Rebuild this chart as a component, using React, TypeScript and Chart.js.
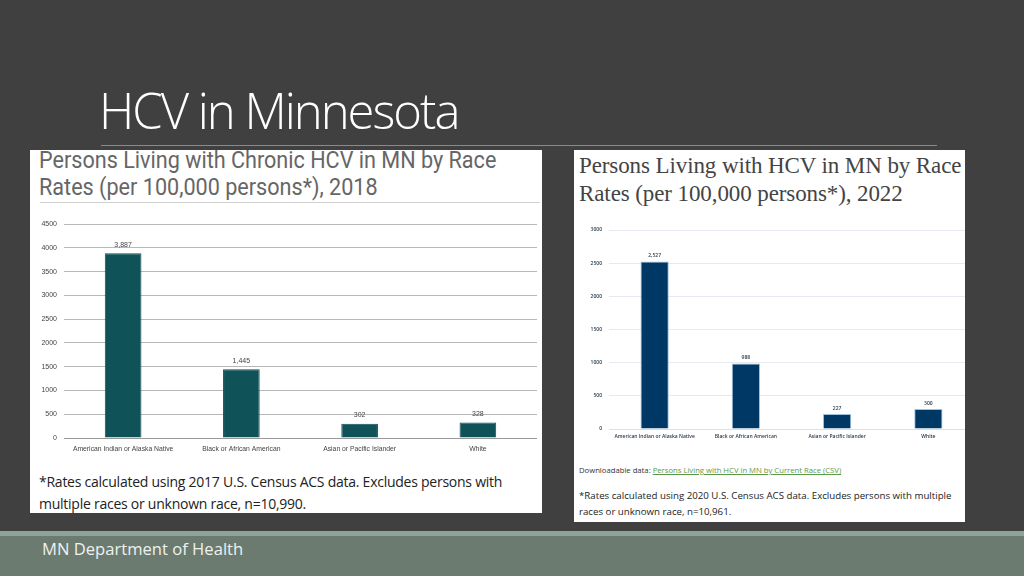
import React, { useEffect, useRef } from "react";
import { Chart, registerables } from "chart.js";

Chart.register(...registerables);

const categories = [
  "American Indian or Alaska Native",
  "Black or African American",
  "Asian or Pacific Islander",
  "White",
];
const rates2018 = [3887, 1445, 302, 328];
const rates2022 = [2527, 988, 227, 300];
const ticks2018 = [0, 500, 1000, 1500, 2000, 2500, 3000, 3500, 4000, 4500];
const ticks2022 = [0, 500, 1000, 1500, 2000, 2500, 3000];

const valueLabelPlugin = (color: string, font: string, offset: number) => ({
  id: "valueLabels",
  afterDatasetsDraw(chart: any) {
    const ctx = chart.ctx;
    const meta = chart.getDatasetMeta(0);
    const data = chart.data.datasets[0].data as number[];
    ctx.save();
    ctx.fillStyle = color;
    ctx.font = font;
    ctx.textAlign = "center";
    ctx.textBaseline = "bottom";
    meta.data.forEach((bar: any, i: number) => {
      ctx.fillText(data[i].toLocaleString("en-US"), bar.x, bar.y - offset);
    });
    ctx.restore();
  },
});

interface ChartProps {
  values: number[];
  tickValues: number[];
  max: number;
  barColor: string;
  borderColor: string;
  gridColor: string;
  zeroColor: string;
  tickColor: string;
  yTickFont: { family: string; size: number; weight?: any };
  xTickFont: { family: string; size: number; weight?: any };
  labelFont: string;
  labelColor: string;
  labelOffset: number;
  yWidth: number;
  xHeight: number;
  xPad: number;
  padding: { top: number; right: number; left: number; bottom: number };
  width: number;
  height: number;
}

function BarChart(p: ChartProps) {
  const ref = useRef<HTMLCanvasElement>(null);
  useEffect(() => {
    if (!ref.current) return;
    const chart = new Chart(ref.current, {
      type: "bar",
      data: {
        labels: categories,
        datasets: [
          {
            data: p.values,
            backgroundColor: p.barColor,
            borderColor: p.borderColor,
            borderWidth: 1,
            barPercentage: 0.31,
            categoryPercentage: 1,
          },
        ],
      },
      options: {
        animation: false,
        responsive: false,
        maintainAspectRatio: false,
        layout: { padding: p.padding },
        plugins: { legend: { display: false }, tooltip: { enabled: false } },
        scales: {
          x: {
            grid: { display: false, drawTicks: false },
            border: { display: false },
            ticks: {
              color: p.tickColor,
              font: p.xTickFont,
              maxRotation: 0,
              autoSkip: false,
              padding: p.xPad,
            },
            afterFit: (s: any) => {
              s.height = p.xHeight;
            },
          },
          y: {
            min: 0,
            max: p.max,
            afterBuildTicks: (s: any) => {
              s.ticks = p.tickValues.map((v) => ({ value: v }));
            },
            grid: {
              color: (c: any) => (c.tick && c.tick.value === 0 ? p.zeroColor : p.gridColor),
              drawTicks: false,
              lineWidth: 1,
            },
            border: { display: false },
            ticks: {
              color: p.tickColor,
              font: p.yTickFont,
              padding: 7,
              callback: (v: any) => String(v),
            },
            afterFit: (s: any) => {
              s.width = p.yWidth;
            },
          },
        },
      },
      plugins: [valueLabelPlugin(p.labelColor, p.labelFont, p.labelOffset)],
    } as any);
    return () => chart.destroy();
  }, []);
  return <canvas ref={ref} width={p.width} height={p.height} style={{ display: "block", width: p.width, height: p.height }} />;
}

export default function App() {
  return (
    <div
      style={{
        position: "absolute",
        left: 0,
        top: 0,
        width: 1024,
        height: 576,
        background: "#404040",
        overflow: "hidden",
        fontFamily: "'Open Sans', sans-serif",
      }}
    >
      {/* Slide title */}
      <div
        style={{
          position: "absolute",
          left: 99,
          top: 78,
          fontSize: 49,
          fontWeight: 300,
          color: "#ffffff",
          fontFamily: "'Open Sans', sans-serif",
          lineHeight: "64px",
          letterSpacing: -2,
          whiteSpace: "nowrap",
        }}
      >
        HCV in Minnesota
      </div>
      <div style={{ position: "absolute", left: 101, top: 145, width: 836, height: 1, background: "#8a8a8a" }} />

      {/* Left panel */}
      <div style={{ position: "absolute", left: 30, top: 150, width: 512, height: 363, background: "#ffffff", overflow: "hidden" }}>
        <div
          style={{
            position: "absolute",
            left: 9,
            top: -3,
            fontFamily: "Roboto, sans-serif",
            fontSize: 24,
            lineHeight: "27px",
            color: "#666666",
            whiteSpace: "nowrap",
            transform: "scaleX(0.9)",
            transformOrigin: "0 0",
          }}
        >
          Persons Living with Chronic HCV in MN by Race
          <br />
          Rates (per 100,000 persons*), 2018
        </div>
        <div style={{ position: "absolute", left: 10, top: 52, width: 500, height: 1, background: "#d0d0d0" }} />
        <div style={{ position: "absolute", left: 0, top: 63 }}>
          <BarChart
            values={rates2018}
            tickValues={ticks2018}
            max={4500}
            barColor="#0f5257"
            borderColor="#0f5257"
            gridColor="#b8b8b8"
            zeroColor="#999999"
            tickColor="#444444"
            yTickFont={{ family: "'Liberation Sans Narrow', 'Liberation Sans', sans-serif", size: 7 }}
            xTickFont={{ family: "'Liberation Sans', sans-serif", size: 6.8 }}
            labelFont="7px 'Liberation Sans', sans-serif"
            labelColor="#444444"
            labelOffset={5}
            yWidth={34}
            xHeight={20}
            xPad={7}
            padding={{ top: 4, right: 5, left: 0, bottom: 0 }}
            width={512}
            height={245}
          />
        </div>
        <div
          style={{
            position: "absolute",
            left: 9,
            top: 321,
            fontSize: 14,
            lineHeight: "22px",
            color: "#222222",
            whiteSpace: "nowrap",
            letterSpacing: -0.25,
          }}
        >
          *Rates calculated using 2017 U.S. Census ACS data. Excludes persons with
          <br />
          multiple races or unknown race, n=10,990.
        </div>
      </div>

      {/* Right panel */}
      <div style={{ position: "absolute", left: 574, top: 150, width: 391, height: 372, background: "#ffffff", overflow: "hidden" }}>
        <div
          style={{
            position: "absolute",
            left: 5,
            top: 2,
            fontFamily: "'Liberation Serif', 'DejaVu Serif', serif",
            fontSize: 23,
            lineHeight: "28px",
            color: "#444444",
            whiteSpace: "nowrap",
            letterSpacing: -0.1,
          }}
        >
          Persons Living with HCV in MN by Race
          <br />
          Rates (per 100,000 persons*), 2022
        </div>
        <div style={{ position: "absolute", left: 0, top: 70 }}>
          <BarChart
            values={rates2022}
            tickValues={ticks2022}
            max={3000}
            barColor="#003865"
            borderColor="#9ec3e0"
            gridColor="#e4eaf0"
            zeroColor="#d8e0e8"
            tickColor="#2a3a4a"
            yTickFont={{ family: "'Open Sans', sans-serif", size: 5, weight: "600" }}
            xTickFont={{ family: "'Open Sans', sans-serif", size: 5, weight: "600" }}
            labelFont="600 5px 'Open Sans', sans-serif"
            labelColor="#2a3a4a"
            labelOffset={3}
            yWidth={35}
            xHeight={16}
            xPad={5}
            padding={{ top: 7, right: 0, left: 0, bottom: 0 }}
            width={400}
            height={225}
          />
        </div>
        <div
          style={{
            position: "absolute",
            left: 5,
            top: 315,
            fontSize: 7.7,
            color: "#333333",
            whiteSpace: "nowrap",
          }}
        >
          Downloadable data:{" "}
          <span style={{ color: "#5c9a4a", textDecoration: "underline" }}>
            Persons Living with HCV in MN by Current Race (CSV)
          </span>
        </div>
        <div
          style={{
            position: "absolute",
            left: 5,
            top: 338,
            fontSize: 9.7,
            lineHeight: "16px",
            color: "#222222",
            whiteSpace: "nowrap",
          }}
        >
          *Rates calculated using 2020 U.S. Census ACS data. Excludes persons with multiple
          <br />
          races or unknown race, n=10,961.
        </div>
      </div>

      {/* Footer */}
      <div style={{ position: "absolute", left: 0, top: 531, width: 1024, height: 5, background: "#8fa398" }} />
      <div style={{ position: "absolute", left: 0, top: 536, width: 1024, height: 40, background: "#6b7b70" }} />
      <div
        style={{
          position: "absolute",
          left: 42,
          top: 537,
          fontSize: 16.6,
          lineHeight: "24px",
          color: "#eef2ee",
          whiteSpace: "nowrap",
        }}
      >
        MN Department of Health
      </div>
    </div>
  );
}
